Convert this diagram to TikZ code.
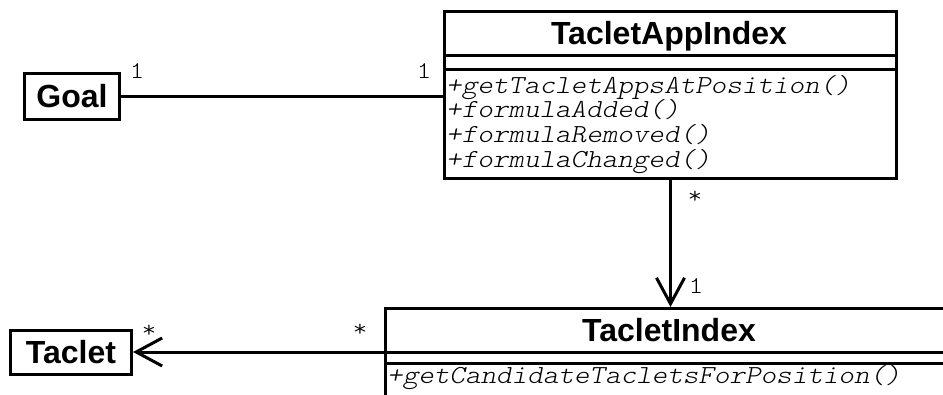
\documentclass[tikz,border=0pt]{standalone}
\usepackage{fontspec}
\setmainfont{Liberation Sans}
\newfontfamily\cour{lmmonolt10}[Extension=.otf, UprightFont=*-regular, FakeStretch=1.14]
\newfontfamily\courobl{lmmonolt10}[Extension=.otf, UprightFont=*-regular, FakeStretch=1.14, FakeSlant=0.2]
\usetikzlibrary{arrows.meta}
\tikzset{
  box/.style={draw, line width=3pt, inner sep=0pt, anchor=north west},
  ctitle/.style={font=\fontsize{32}{32}\selectfont\bfseries, inner sep=0pt, anchor=base},
  meth/.style={font=\fontsize{26}{26}\selectfont\courobl, inner sep=0pt, anchor=base west},
  mult/.style={font=\fontsize{24}{24}\selectfont\cour, inner sep=0pt, anchor=base},
  conn/.style={line width=3pt},
  open/.style={-{Straight Barb[length=26pt,width=28pt,line width=3pt]}},
  sep/.style={line width=3pt}
}
\begin{document}
\begin{tikzpicture}[x=1pt,y=-1pt]
\useasboundingbox (0,0) rectangle (943,394);
\begin{scope}
\clip (0,0) rectangle (943,394);
% TacletAppIndex
\node[box, minimum width=452pt, minimum height=167pt] (tai) at (443,10) {};
\draw[sep] (443,55) -- (895,55);
\draw[sep] (443,69) -- (895,69);
\node[ctitle] (taititle) at (669,44) {TacletAppIndex};
\node[meth] (m1) at (446,93) {+getTacletAppsAtPosition()};
\node[meth] (m2) at (446,117) {+formulaAdded()};
\node[meth] (m3) at (446,142) {+formulaRemoved()};
\node[meth] (m4) at (446,167) {+formulaChanged()};
% Goal
\node[box, minimum width=95pt, minimum height=46pt] (goal) at (23,72) {};
\node[font=\fontsize{32}{32}\selectfont\bfseries, inner sep=0pt] (goaltxt) at (goal.center) {Goal};
% TacletIndex
\node[box, minimum width=570pt, minimum height=120pt] (ti) at (384,307) {};
\draw[sep] (384,352) coordinate (tisep) -- (960,352);
\draw[sep] (384,363) -- (960,363);
\node[ctitle] (tititle) at (669,341) {TacletIndex};
\node[meth] (m5) at (387,383) {+getCandidateTacletsForPosition()};
% Taclet
\node[box, minimum width=121pt, minimum height=44pt] (taclet) at (9,329) {};
\node[font=\fontsize{32}{32}\selectfont\bfseries, inner sep=0pt] (taclettxt) at (taclet.center) {Taclet};
% connectors
\draw[conn] (goal.east) -- (goal.east -| tai.west);
\draw[conn, open] (tai.south) -- (ti.north);
\draw[conn, open] (tisep) -- (tisep -| taclet.east);
% multiplicities
\node[mult] (g1) at (137,78) {1};
\node[mult] (t1) at (424,78) {1};
\node[mult] (ts) at (695,203) {*};
\node[mult] (ti1) at (696,293) {1};
\node[mult] (cs) at (149,337) {*};
\node[mult] (tis) at (360,336) {*};
\end{scope}
\end{tikzpicture}
\end{document}
